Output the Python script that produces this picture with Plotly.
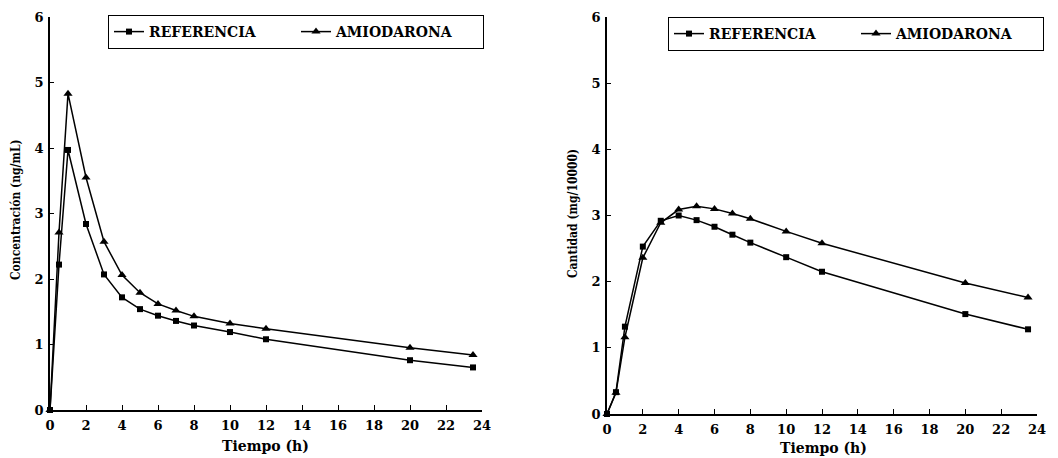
import plotly.graph_objects as go

# Data
tiempo = [0, 0.5, 1, 2, 3, 4, 5, 6, 7, 8, 10, 12, 20, 23.5]
conc_referencia = [0, 2.22, 3.97, 2.84, 2.07, 1.72, 1.54, 1.44, 1.36, 1.29, 1.19, 1.08, 0.76, 0.65]
conc_amiodarona = [0, 2.71, 4.83, 3.55, 2.57, 2.06, 1.79, 1.62, 1.52, 1.43, 1.32, 1.24, 0.95, 0.84]
cant_referencia = [0, 0.33, 1.32, 2.53, 2.92, 3.00, 2.93, 2.83, 2.71, 2.59, 2.37, 2.15, 1.51, 1.28]
cant_amiodarona = [0, 0.32, 1.16, 2.36, 2.89, 3.09, 3.14, 3.10, 3.03, 2.95, 2.76, 2.58, 1.98, 1.76]
x_ticks = list(range(0, 25, 2))
y_ticks = list(range(0, 7))

OFF = 8  # default page body margin
W, H = 1058 - OFF, 458 - OFF
FONT = "DejaVu Serif"

def px_x(p):
    return (p - OFF) / W

def px_y(p):
    return 1 - (p - OFF) / H

line = dict(color="black", width=1.5)
fig = go.Figure()

specs = [
    ("REFERENCIA", conc_referencia, "square", 6, "x", "y", "legend"),
    ("AMIODARONA", conc_amiodarona, "triangle-up", 8, "x", "y", "legend"),
    ("REFERENCIA", cant_referencia, "square", 6, "x2", "y2", "legend2"),
    ("AMIODARONA", cant_amiodarona, "triangle-up", 8, "x2", "y2", "legend2"),
]
for name, vals, sym, sz, xa, ya, lg in specs:
    fig.add_trace(go.Scatter(
        x=tiempo, y=vals, name=name, mode="lines+markers",
        line=line, marker=dict(symbol=sym, size=sz, color="black"),
        xaxis=xa, yaxis=ya, legend=lg, cliponaxis=False,
    ))

tickfont = dict(family=FONT, size=13, color="black", weight="bold")
common_x = dict(range=[0, 24], tickvals=x_ticks, ticks="inside", ticklen=5,
                tickcolor="black", showline=True, linecolor="black", linewidth=1.5,
                showgrid=False, zeroline=False, tickfont=tickfont, fixedrange=True,
                ticklabelstandoff=3)
common_y = dict(range=[0, 6], tickvals=y_ticks, ticks="inside", ticklen=4,
                tickcolor="black", showline=True, linecolor="black", linewidth=1.5,
                showgrid=False, zeroline=False, tickfont=tickfont, fixedrange=True,
                ticklabelstandoff=2)

legend_common = dict(orientation="h", bgcolor="white", bordercolor="black", borderwidth=1,
                     font=dict(family=FONT, size=14, color="black", weight="bold"),
                     xanchor="left", yanchor="top", entrywidth=142, itemwidth=30,
                     tracegroupgap=0)

title_font = dict(family=FONT, size=14, color="black", weight="bold")
ytitle_font = dict(family="DejaVu Serif Condensed", size=12, color="black", weight="bold")

fig.update_layout(
    width=W, height=H, margin=dict(l=0, r=0, t=0, b=0, autoexpand=False),
    paper_bgcolor="white", plot_bgcolor="white",
    xaxis=dict(domain=[px_x(50), px_x(482)], anchor="y", **common_x),
    yaxis=dict(domain=[px_y(410), px_y(17)], anchor="x", **common_y),
    xaxis2=dict(domain=[px_x(607), px_x(1037)], anchor="y2", **common_x),
    yaxis2=dict(domain=[px_y(414), px_y(17)], anchor="x2", **common_y),
    legend=dict(x=px_x(108), y=px_y(15), **legend_common),
    legend2=dict(x=px_x(668), y=px_y(17), **legend_common),
    annotations=[
        dict(text="Tiempo (h)", x=px_x(265), y=px_y(446), xref="paper", yref="paper",
             xanchor="center", yanchor="middle", showarrow=False, font=title_font),
        dict(text="Tiempo (h)", x=px_x(823), y=px_y(448), xref="paper", yref="paper",
             xanchor="center", yanchor="middle", showarrow=False, font=title_font),
        dict(text="Concentración (ng/mL)", x=px_x(16), y=px_y(210), xref="paper", yref="paper",
             xanchor="center", yanchor="middle", showarrow=False, textangle=-90, font=ytitle_font),
        dict(text="Cantidad (mg/10000)", x=px_x(573), y=px_y(214), xref="paper", yref="paper",
             xanchor="center", yanchor="middle", showarrow=False, textangle=-90, font=ytitle_font),
    ],
)

fig.write_html("out.html")
